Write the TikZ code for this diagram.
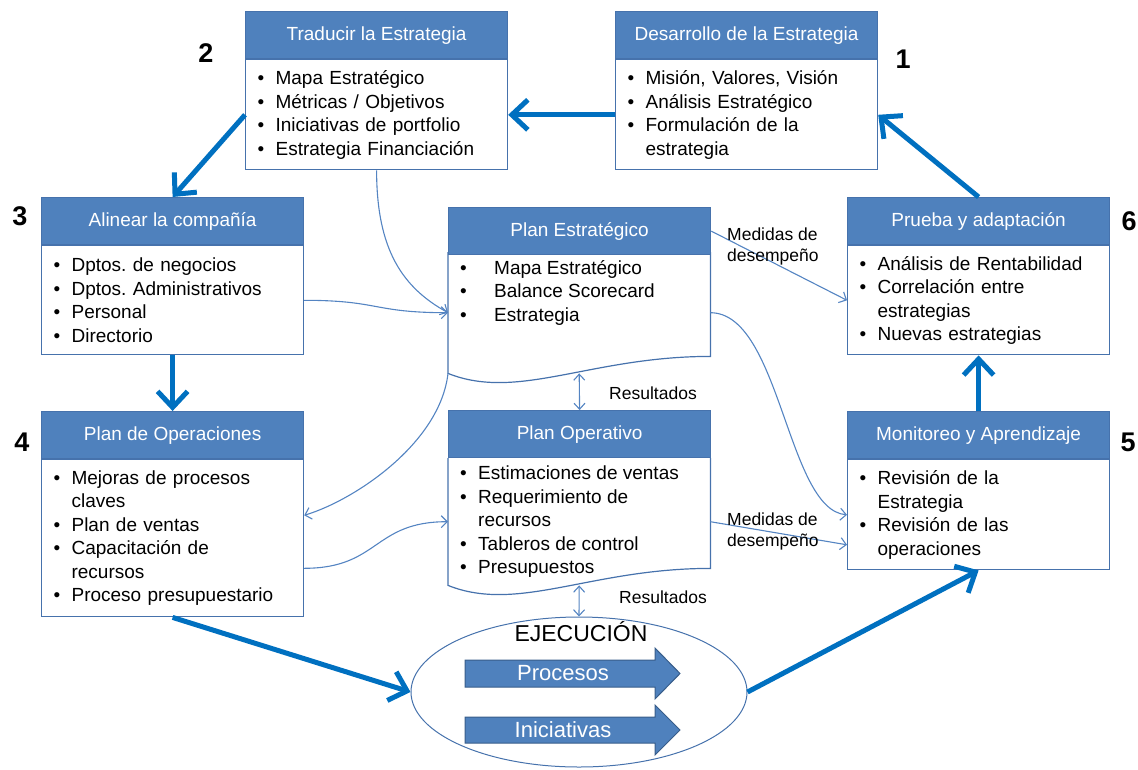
\documentclass[tikz,border=0pt]{standalone}
\usepackage{fontspec}
\setmainfont{Liberation Sans}
\usetikzlibrary{positioning,shapes.geometric,arrows.meta}
\definecolor{headblue}{RGB}{79,129,189}
\definecolor{edgeblue}{RGB}{70,114,172}
\definecolor{flowblue}{RGB}{0,112,192}
\definecolor{linkblue}{RGB}{84,132,194}
\definecolor{darkarrow}{RGB}{56,93,138}

\newcommand{\bul}{\makebox[18pt][l]{\textbullet}}
\newcommand{\widebul}{\makebox[34pt][l]{\textbullet}}
\newcommand{\cnt}{\hspace*{18pt}}
\frenchspacing

\begin{document}
\begin{tikzpicture}[x=1pt, y=-1pt,
    cardhead/.style={rectangle, draw=edgeblue, line width=1.2pt, fill=headblue,
      text=white, minimum width=262pt, minimum height=47pt, inner sep=0pt,
      font=\fontsize{19}{22}\selectfont},
    cardbody/.style={rectangle, draw=edgeblue, line width=1.2pt, fill=white,
      text width=238pt, inner xsep=12pt, align=left,
      font=\fontsize{19}{23.5}\selectfont},
    docbody/.style={rectangle, inner xsep=12pt, inner ysep=8pt,
      font=\fontsize{19}{23.5}\selectfont},
    flowarr/.style={draw=flowblue, line width=5pt,
      -{Straight Barb[length=16pt,width=30pt]}},
    linkarr/.style={draw=linkblue, line width=1.1pt,
      -{Straight Barb[length=6pt,width=12pt]}},
    duoarr/.style={draw=linkblue, line width=1.1pt,
      {Straight Barb[length=6pt,width=11pt]}-{Straight Barb[length=6pt,width=11pt]}},
    tag/.style={font=\fontsize{17.5}{21}\selectfont, inner sep=0pt},
    bignum/.style={font=\fontsize{27}{30}\selectfont\bfseries, inner sep=0pt},
    arrowtext/.style={text=white, font=\fontsize{22}{24}\selectfont, inner sep=0pt}]

    \useasboundingbox (0,0) rectangle (1138,769);

    %% top row
    \node[cardhead, anchor=north west] (trad) at (245,11) {Traducir la Estrategia};
    \node[cardbody, below=0pt of trad, minimum height=110pt] (trad-b)
      {\bul Mapa Estratégico\\ \bul Métricas / Objetivos\\
       \bul Iniciativas de portfolio\\ \bul Estrategia Financiación};

    \node[cardhead, anchor=north west] (des) at (615,11) {Desarrollo de la Estrategia};
    \node[cardbody, below=0pt of des, minimum height=110pt] (des-b)
      {\bul Misión, Valores, Visión\\ \bul Análisis Estratégico\\
       \bul Formulación de la\\ \cnt estrategia};

    %% left column
    \node[cardhead, anchor=north west] (alin) at (41,197) {Alinear la compañía};
    \node[cardbody, below=0pt of alin, minimum height=109pt] (alin-b)
      {\bul Dptos. de negocios\\ \bul Dptos. Administrativos\\
       \bul Personal\\ \bul Directorio};

    \node[cardhead, anchor=north west] (ops) at (41,411) {Plan de Operaciones};
    \node[cardbody, below=0pt of ops, minimum height=157pt] (ops-b)
      {\bul Mejoras de procesos\\ \cnt claves\\ \bul Plan de ventas\\
       \bul Capacitación de\\ \cnt recursos\\ \bul Proceso presupuestario};

    %% right column
    \node[cardhead, anchor=north west] (pru) at (847,197) {Prueba y adaptación};
    \node[cardbody, below=0pt of pru, minimum height=109pt] (pru-b)
      {\bul Análisis de Rentabilidad\\ \bul Correlación entre\\
       \cnt estrategias\\ \bul Nuevas estrategias};

    \node[cardhead, anchor=north west] (mon) at (847,411) {Monitoreo y Aprendizaje};
    \node[cardbody, below=0pt of mon, minimum height=110pt] (mon-b)
      {\bul Revisión de la\\ \cnt Estrategia\\ \bul Revisión de las\\ \cnt operaciones};

    %% middle column (document shapes)
    \node[docbody, anchor=north west] (pest-b) at (448,252)
      {\parbox[c][105pt][t]{238pt}{\raggedright
        \widebul Mapa Estratégico\\ \widebul Balance Scorecard\\ \widebul Estrategia}};
    \draw[edgeblue, line width=1.2pt] (pest-b.north west) -- (pest-b.south west)
      .. controls +(70,28) and +(-120,0) .. ([yshift=17pt]pest-b.south east)
      -- (pest-b.north east);
    \node[cardhead, anchor=north west] (pest) at (448,207) {Plan Estratégico};

    \node[docbody, anchor=north west] (pop-b) at (448,458)
      {\parbox[c][111pt][t]{238pt}{\raggedright
        \bul Estimaciones de ventas\\ \bul Requerimiento de\\ \cnt recursos\\
        \bul Tableros de control\\ \bul Presupuestos}};
    \draw[edgeblue, line width=1.2pt] (pop-b.north west) -- (pop-b.south west)
      .. controls +(70,28) and +(-120,0) .. ([yshift=17pt]pop-b.south east)
      -- (pop-b.north east);
    \node[cardhead, anchor=north west] (pop) at (448,410) {Plan Operativo};

    %% execution
    \node[ellipse, draw=edgeblue, line width=1pt, minimum width=336pt,
      minimum height=150pt, inner sep=0pt] (ejec) at (579,692) {};
    \node[font=\fontsize{23}{25}\selectfont, inner sep=0pt] (ejt) at (581,632) {EJECUCIÓN};
    \fill[headblue, draw=darkarrow, line width=1pt] (465,660) -- (655,660) -- (655,648)
      -- (680,673.5) -- (655,699) -- (655,687) -- (465,687) -- cycle;
    \node[arrowtext] (proc) at (563,673.5) {Procesos};
    \fill[headblue, draw=darkarrow, line width=1pt] (465,717) -- (655,717) -- (655,705)
      -- (680,730) -- (655,755) -- (655,743) -- (465,743) -- cycle;
    \node[arrowtext] (inic) at (563,730) {Iniciativas};

    %% step numbers
    \node[bignum] (n1) at (903,59) {1};
    \node[bignum] (n2) at (206,53) {2};
    \node[bignum] (n3) at (20,216) {3};
    \node[bignum] (n4) at (22,442) {4};
    \node[bignum] (n5) at (1128,442) {5};
    \node[bignum] (n6) at (1129,221) {6};

    %% main cycle
    \draw[flowarr] (des-b.west) -- (trad-b.east);
    \draw[flowarr] (trad-b.west) -- (alin.north);
    \draw[flowarr] (alin-b.south) -- (ops.north);
    \draw[flowarr] (ops-b.south) -- (ejec.west);
    \draw[flowarr] (ejec.east) -- (mon-b.south);
    \draw[flowarr] (mon.north) -- (pru-b.south);
    \draw[flowarr] (pru.north) -- (des-b.east);

    %% thin links
    \draw[linkarr] (trad-b.south) .. controls +(0,80) and +(-45,-25) .. (pest-b.west);
    \draw[linkarr] (alin-b.east) .. controls +(75,0) and +(-75,0) .. (pest-b.west);
    \draw[linkarr] (pest-b.south west) .. controls +(-8,70) and +(50,-15)
      .. ([yshift=23pt]ops-b.east);
    \draw[linkarr] ([yshift=-30pt]ops-b.east) .. controls +(75,0) and +(-75,0) .. (pop-b.west);
    \draw[linkarr] (pest-b.east) .. controls +(70,0) and +(-60,-5) .. (mon-b.west);
    \draw[linkarr] (pest.east) -- (pru-b.west);
    \draw[linkarr] (pop-b.east) -- ([yshift=-30pt]mon-b.west);
    \draw[duoarr] (pest-b.south) -- (pop.north);
    \draw[duoarr] (pop-b.south) -- (ejec.north);

    %% labels
    \node[tag, anchor=west, align=left] (med1) at (727,246) {Medidas de\\desempeño};
    \node[tag, anchor=west, align=left] (med2) at (727,531) {Medidas de\\desempeño};
    \node[tag] (res1) at (653,393) {Resultados};
    \node[tag] (res2) at (663,597) {Resultados};
  \end{tikzpicture}
\end{document}
